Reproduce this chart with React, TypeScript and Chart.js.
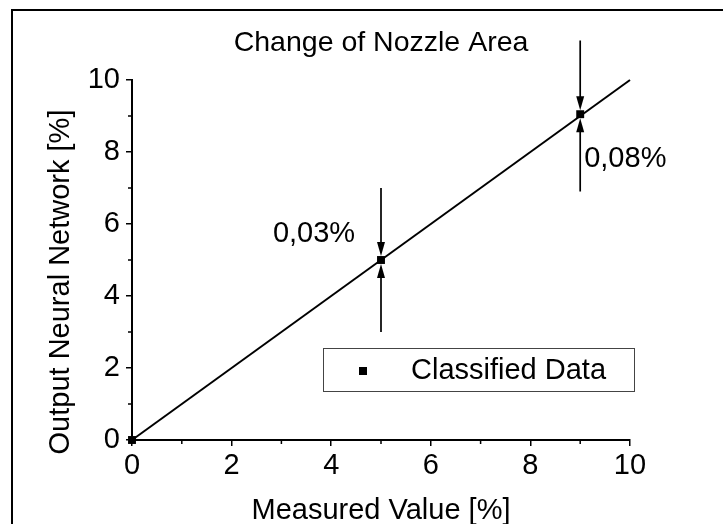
import React, { useEffect, useRef } from 'react';
import { Chart, registerables } from 'chart.js';

Chart.register(...registerables);

// ---- data ----
const seriesLabel = 'Classified Data';
const measured = [0, 5, 9];
const networkOutput = [0, 5, 9.05];
const fitX = [0, 10];
const fitY = [0, 10];
const xTicks = [0, 2, 4, 6, 8, 10];
const yTicks = [0, 2, 4, 6, 8, 10];
const minorTicks = [1, 3, 5, 7, 9];
const arrowX = [5, 9];
const arrowUpper = [7.0, 11.1];
const arrowLower = [3.0, 6.9];
const noteTexts = ['0,03%', '0,08%'];
const noteX = [4.48, 9.08];
const noteY = [5.72, 7.8];
const noteAlign: CanvasTextAlign[] = ['right', 'left'];

const chartTitle = 'Change of Nozzle Area';
const xTitle = 'Measured Value [%]';
const yTitle = 'Output Neural Network [%]';

const FONT = 'Liberation Sans';
const FS = 29;

const decorPlugin = {
  id: 'decor',
  beforeDraw(chart: any) {
    const ctx = chart.ctx;
    ctx.save();
    ctx.fillStyle = '#fff';
    ctx.fillRect(0, 0, chart.width, chart.height);
    ctx.fillStyle = '#000';
    // outer frame (cropped)
    ctx.fillRect(11, 9, chart.width, 2);
    ctx.fillRect(11, 9, 2, chart.height);
    ctx.restore();
  },
  afterDraw(chart: any) {
    const ctx = chart.ctx;
    const xs = chart.scales.x;
    const ys = chart.scales.y;
    const ca = chart.chartArea;
    ctx.save();
    ctx.strokeStyle = '#000';
    ctx.fillStyle = '#000';
    ctx.lineWidth = 1.5;
    // minor ticks
    ctx.beginPath();
    minorTicks.forEach((v) => {
      const px = xs.getPixelForValue(v);
      ctx.moveTo(px, ca.bottom);
      ctx.lineTo(px, ca.bottom + 4);
      const py = ys.getPixelForValue(v);
      ctx.moveTo(ca.left, py);
      ctx.lineTo(ca.left - 4, py);
    });
    ctx.stroke();

    // arrows
    const head = 14;
    const hw = 4;
    ctx.lineWidth = 1.7;
    arrowX.forEach((xv, i) => {
      const px = xs.getPixelForValue(xv);
      const idx = measured.indexOf(xv);
      const pyPoint = ys.getPixelForValue(networkOutput[idx]);
      const top = ys.getPixelForValue(arrowUpper[i]);
      const bot = ys.getPixelForValue(arrowLower[i]);
      const tipTop = pyPoint - 4;
      const tipBot = pyPoint + 4;
      ctx.beginPath();
      ctx.moveTo(px, top);
      ctx.lineTo(px, tipTop - head + 1);
      ctx.moveTo(px, bot);
      ctx.lineTo(px, tipBot + head - 1);
      ctx.stroke();
      ctx.beginPath();
      ctx.moveTo(px, tipTop);
      ctx.lineTo(px - hw, tipTop - head);
      ctx.lineTo(px + hw, tipTop - head);
      ctx.closePath();
      ctx.fill();
      ctx.beginPath();
      ctx.moveTo(px, tipBot);
      ctx.lineTo(px - hw, tipBot + head);
      ctx.lineTo(px + hw, tipBot + head);
      ctx.closePath();
      ctx.fill();
    });

    // notes
    ctx.font = `${FS}px "${FONT}"`;
    ctx.textBaseline = 'middle';
    noteTexts.forEach((t, i) => {
      ctx.textAlign = noteAlign[i];
      ctx.fillText(t, xs.getPixelForValue(noteX[i]), ys.getPixelForValue(noteY[i]));
    });

    // legend box
    const lx = ca.left + 191;
    const ly = ca.top + 268;
    const lw = 311;
    const lh = 43;
    ctx.fillStyle = '#fff';
    ctx.fillRect(lx, ly, lw, lh);
    ctx.strokeStyle = '#444';
    ctx.lineWidth = 1;
    ctx.strokeRect(lx + 0.5, ly + 0.5, lw, lh);
    ctx.fillStyle = '#000';
    ctx.fillRect(lx + 36, ly + 19, 8, 8);
    ctx.textAlign = 'left';
    ctx.fillText(chart.data.datasets[1].label, lx + 88, ly + 23);

    // y axis title
    ctx.save();
    ctx.translate(61, (ca.top + ca.bottom) / 2 + 22);
    ctx.rotate(-Math.PI / 2);
    ctx.textAlign = 'center';
    ctx.textBaseline = 'middle';
    ctx.fillText(yTitle, 0, 0);
    ctx.restore();

    ctx.restore();
  },
};

export default function App() {
  const ref = useRef<HTMLCanvasElement>(null);
  useEffect(() => {
    Chart.defaults.font.family = FONT;
    Chart.defaults.color = '#000';
    const chart = new Chart(ref.current as HTMLCanvasElement, {
      type: 'scatter',
      data: {
        datasets: [
          {
            type: 'line',
            label: 'fit',
            data: fitX.map((x, i) => ({ x, y: fitY[i] })),
            borderColor: '#000',
            borderWidth: 2,
            pointRadius: 0,
            fill: false,
            clip: false as any,
          } as any,
          {
            label: seriesLabel,
            data: measured.map((x, i) => ({ x, y: networkOutput[i] })),
            pointStyle: 'rect',
            pointRadius: 5.6,
            pointBackgroundColor: '#000',
            pointBorderColor: '#000',
            pointBorderWidth: 0,
            clip: false as any,
          },
        ],
      },
      plugins: [decorPlugin],
      options: {
        animation: false,
        responsive: true,
        maintainAspectRatio: false,
        events: [],
        layout: { padding: { left: 0, right: 93, top: 0, bottom: 0 } },
        plugins: {
          legend: { display: false },
          tooltip: { enabled: false },
          title: {
            display: true,
            text: chartTitle,
            fullSize: false,
            color: '#000',
            font: { size: 28.5, weight: 'normal', lineHeight: 1.2 },
            padding: { top: 25.9, bottom: 19.9 },
          },
        },
        scales: {
          x: {
            type: 'linear',
            min: 0,
            max: 10,
            afterBuildTicks: (s: any) => {
              s.ticks = xTicks.map((v) => ({ value: v }));
            },
            afterFit: (s: any) => {
              s.height = 84;
            },
            ticks: {
              font: { size: FS, lineHeight: 1 },
              padding: 5,
              color: '#000',
              maxRotation: 0,
              autoSkip: false,
            },
            grid: {
              drawOnChartArea: false,
              drawTicks: true,
              tickLength: 6,
              color: '#000',
              lineWidth: 1.5,
            },
            border: { display: true, color: '#000', width: 2 },
            title: {
              display: true,
              text: xTitle,
              color: '#000',
              font: { size: FS, lineHeight: 1 },
              padding: { top: 0, bottom: -1.5 },
            },
          },
          y: {
            type: 'linear',
            min: 0,
            max: 10,
            afterBuildTicks: (s: any) => {
              s.ticks = yTicks.map((v) => ({ value: v }));
            },
            afterFit: (s: any) => {
              s.width = 132;
            },
            ticks: {
              font: { size: FS, lineHeight: 1 },
              padding: 6,
              color: '#000',
              autoSkip: false,
            },
            grid: {
              drawOnChartArea: false,
              drawTicks: true,
              tickLength: 6,
              color: '#000',
              lineWidth: 1.5,
            },
            border: { display: true, color: '#000', width: 2 },
            title: { display: false },
          },
        },
      } as any,
    });
    return () => chart.destroy();
  }, []);
  return (
    <div style={{ position: 'fixed', left: 0, top: 0, width: 723, height: 524, background: '#fff' }}>
      <canvas ref={ref} />
    </div>
  );
}
